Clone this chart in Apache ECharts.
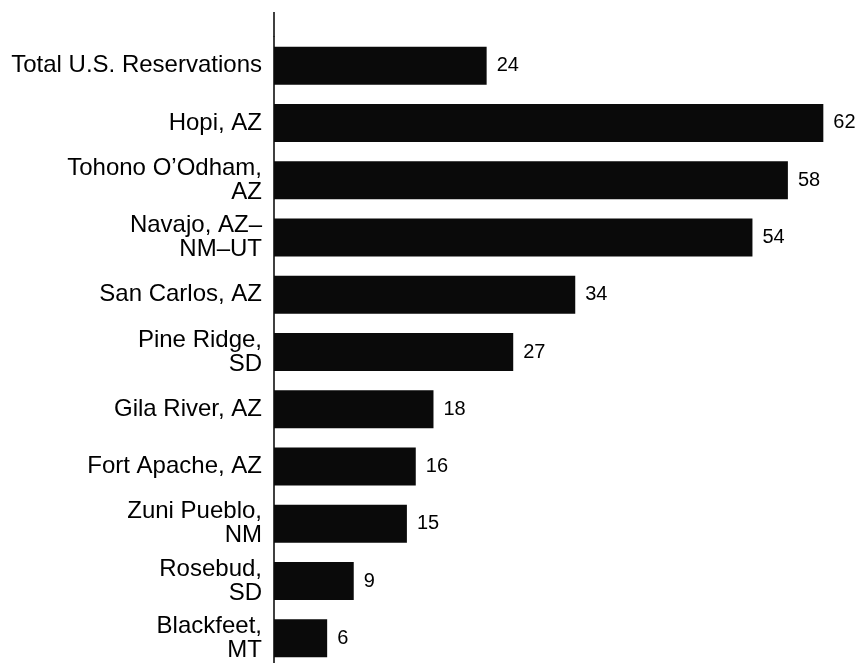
<!DOCTYPE html>
<html>
<head>
<meta charset="utf-8">
<script src="https://cdn.jsdelivr.net/npm/echarts@6/dist/echarts.min.js"></script>
<style>
	html, body { margin: 0; padding: 0; background: #fff; overflow: hidden; }
	#main { width: 857px; height: 680px; }
</style>
</head>
<body>
<div id="main"></div>
<script>
// 保留地名称（自上而下）
var reservations = [
	'Total U.S. Reservations',
	'Hopi, AZ',
	'Tohono O\u2019Odham,\nAZ',
	'Navajo, AZ\u2013\nNM\u2013UT',
	'San Carlos, AZ',
	'Pine Ridge,\nSD',
	'Gila River, AZ',
	'Fort Apache, AZ',
	'Zuni Pueblo,\nNM',
	'Rosebud,\nSD',
	'Blackfeet,\nMT'
];
// 数值
var values = [24, 62, 58, 54, 34, 27, 18, 16, 15, 9, 6];

var FONT = '"Liberation Sans", Arial, Helvetica, sans-serif';

function showChart(){
	var myChart = echarts.init(document.getElementById('main'));
	var option = {
		animation: false,
		backgroundColor: '#fff',
		grid: {
			left: 274,
			right: 0,
			top: 37,
			bottom: 13
		},
		xAxis: {
			type: 'value',
			min: 0,
			max: 65.8,
			show: false
		},
		yAxis: {
			type: 'category',
			inverse: true,
			data: reservations,
			axisLine: { show: true, lineStyle: { color: '#000', width: 1.5 } },
			axisTick: { show: false },
			axisLabel: {
				margin: 12,
				color: '#000',
				fontFamily: FONT,
				fontSize: 24,
				lineHeight: 24,
				align: 'right'
			}
		},
		// 轴线向上延伸
		graphic: [{
			type: 'line',
			shape: { x1: 274, y1: 12, x2: 274, y2: 37 },
			style: { stroke: '#000', lineWidth: 1.5 }
		}],
		series: [{
			type: 'bar',
			data: values,
			barWidth: 38,
			itemStyle: { color: '#0a0a0a' },
			label: {
				show: true,
				position: 'right',
				distance: 10,
				color: '#000',
				fontFamily: FONT,
				fontSize: 20
			}
		}]
	};
	myChart.setOption(option);
}

showChart();
</script>
</body>
</html>
